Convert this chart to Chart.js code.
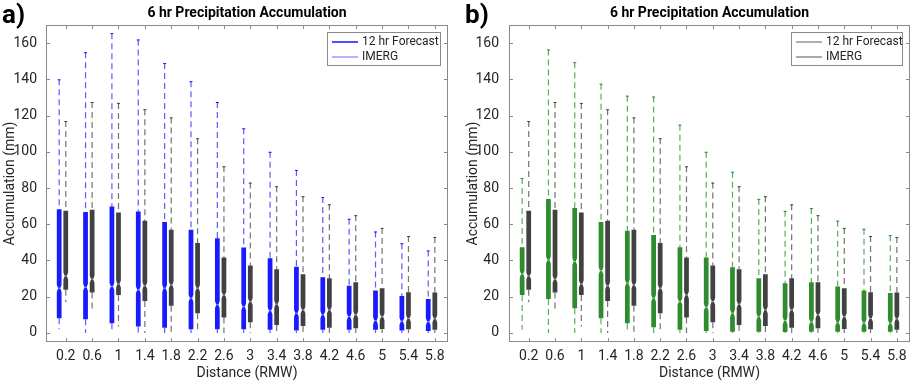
<!DOCTYPE html>
<html>
<head>
<meta charset="utf-8">
<script src="https://cdn.jsdelivr.net/npm/chart.js@4.4.0/dist/chart.umd.min.js"></script>
<style>
  body { margin: 0; background: #fff; }
  #wrap { position: relative; width: 913px; height: 382px; }
  .panel { position: absolute; top: 0; height: 382px; }
</style>
</head>
<body>
<div id="wrap">
  <div class="panel" style="left:0;width:455px"><canvas id="chartA"></canvas></div>
  <div class="panel" style="left:455px;width:458px"><canvas id="chartB"></canvas></div>
</div>
<script>
// distance bins (RMW) and y ticks
const distances = [0.2, 0.6, 1, 1.4, 1.8, 2.2, 2.6, 3, 3.4, 3.8, 4.2, 4.6, 5, 5.4, 5.8];
const yTicks = [0, 20, 40, 60, 80, 100, 120, 140, 160];

// 12 hr forecast, panel a (blue)
const fcaLow  = [2, 0, 0, 0, 0, 0, 0, 0, 0, 0, 0, 0, 0, 0, 0];
const fcaQ1   = [8.1, 7.6, 5.4, 3.5, 2.9, 2, 2, 2, 1.7, 1.3, 1.7, 1.7, 1.7, 1.3, 1.1];
const fcaMed  = [24.7, 25.2, 25.6, 23.8, 24.7, 19.2, 15.5, 14.5, 12.2, 10.9, 10, 9, 6.8, 6.5, 6.2];
const fcaQ3   = [68.3, 66.7, 69.8, 67, 61.3, 57, 52.3, 47.1, 41.3, 36.6, 30.8, 26.1, 23.4, 20.4, 18.8];
const fcaHigh = [140, 155, 165.5, 162, 149, 139, 127.5, 113, 100, 90, 75, 63, 56, 49.5, 45.5];

// 12 hr forecast, panel b (green)
const fcbLow  = [1.7, 0, 0, 0, 0, 0, 0, 0, 0, 0, 0, 0, 0, 0, 0];
const fcbQ1   = [21, 18.8, 13.6, 8.1, 5.4, 3.1, 1.7, 1.1, 0.7, 0.7, 0.5, 0.6, 0.6, 0.6, 0.6];
const fcbMed  = [32.6, 40.3, 39.4, 34.4, 27.5, 19.2, 17.3, 14.2, 10.9, 9, 6.8, 6.1, 5.7, 5.5, 5.4];
const fcbQ3   = [47.3, 74, 69, 61.2, 56.4, 54.1, 47.3, 41.6, 36.3, 30.2, 27.5, 28, 25.6, 23.4, 22];
const fcbHigh = [85.5, 156.5, 149.5, 137.6, 131, 130.5, 115, 100, 89, 74, 67.4, 69, 62, 57.5, 54];

// IMERG (same in both panels)
const imLow  = [17, 11.6, 3.5, 0, 0, 0, 0, 0, 0, 0, 0, 0, 0, 0, 0];
const imQ1   = [23.8, 22.3, 21, 17.7, 15, 10.9, 8.5, 5.9, 4.4, 3.9, 2.9, 2.6, 2.2, 2, 1.7];
const imMed  = [31.5, 29.7, 27, 26, 26.5, 24.7, 21, 17.3, 15.9, 12.7, 12.7, 10, 9, 8, 7.8];
const imQ3   = [67.4, 68, 66.5, 62, 57, 49.6, 41.6, 37.2, 35.2, 32.4, 30.2, 28, 24.7, 22.5, 22.3];
const imHigh = [117, 127.5, 127, 123.5, 119, 107.5, 92, 83, 81, 75.5, 71, 65, 58, 53.5, 53];

const FONT = 'Roboto, "Liberation Sans", Arial, sans-serif';
const TEXT = '#262626';

function makeSet(label, offset, low, q1, med, q3, high, boxColor, whiskerColor) {
    return {
        label: label,
        data: distances.map((d, i) => ({ x: d + offset, y: med[i] })),
        pointRadius: 0,
        showLine: false,
        stats: { low, q1, med, q3, high },
        boxColor: boxColor,
        whiskerColor: whiskerColor
    };
}

// draws notched compact boxes + dashed whiskers from the dataset stats
const boxPlugin = {
    id: 'boxes',
    afterDatasetsDraw(chart) {
        const ctx = chart.ctx;
        const xs = chart.scales.x, ys = chart.scales.y;
        const boxW = xs.getPixelForValue(0.072) - xs.getPixelForValue(0);
        chart.data.datasets.forEach(ds => {
            const s = ds.stats;
            ds.data.forEach((pt, i) => {
                const x = xs.getPixelForValue(pt.x);
                const yLow = ys.getPixelForValue(s.low[i]);
                const yQ1 = ys.getPixelForValue(s.q1[i]);
                const yMed = ys.getPixelForValue(s.med[i]);
                const yQ3 = ys.getPixelForValue(s.q3[i]);
                const yHigh = ys.getPixelForValue(s.high[i]);

                ctx.save();
                // whiskers
                ctx.strokeStyle = ds.whiskerColor;
                ctx.lineWidth = 1.2;
                ctx.setLineDash([6, 4]);
                ctx.beginPath();
                ctx.moveTo(x, yHigh);
                ctx.lineTo(x, yQ3);
                ctx.stroke();
                ctx.beginPath();
                ctx.moveTo(x, yQ1);
                ctx.lineTo(x, yLow);
                ctx.stroke();
                ctx.setLineDash([]);
                // top cap
                ctx.strokeStyle = ds.boxColor;
                ctx.lineWidth = 1;
                ctx.beginPath();
                ctx.moveTo(x - 1.5, yHigh + 0.5);
                ctx.lineTo(x + 1.5, yHigh + 0.5);
                ctx.stroke();

                // notched box
                const L = x - boxW / 2, R = x + boxW / 2;
                const n = boxW * 0.28;
                const h = Math.min(3.5, (yQ1 - yMed) * 0.9, (yMed - yQ3) * 0.9);
                ctx.fillStyle = ds.boxColor;
                ctx.beginPath();
                ctx.moveTo(L, yQ3);
                ctx.lineTo(R, yQ3);
                ctx.lineTo(R, yMed - h);
                ctx.lineTo(R - n, yMed);
                ctx.lineTo(R, yMed + h);
                ctx.lineTo(R, yQ1);
                ctx.lineTo(L, yQ1);
                ctx.lineTo(L, yMed + h);
                ctx.lineTo(L + n, yMed);
                ctx.lineTo(L, yMed - h);
                ctx.closePath();
                ctx.fill();
                // median mark
                ctx.strokeStyle = 'rgba(255,255,255,0.55)';
                ctx.lineWidth = 1;
                ctx.beginPath();
                ctx.moveTo(L + n, yMed);
                ctx.lineTo(R - n, yMed);
                ctx.stroke();
                ctx.restore();
            });
        });
    }
};

// frame, inward ticks, title, panel letter, legend
const decorPlugin = {
    id: 'decor',
    afterDraw(chart) {
        const ctx = chart.ctx;
        const a = chart.chartArea;
        const xs = chart.scales.x, ys = chart.scales.y;
        const o = chart.options.plugins.decor;
        ctx.save();
        ctx.strokeStyle = '#8a8a8a';
        ctx.lineWidth = 1;
        ctx.strokeRect(a.left + 0.5, a.top + 0.5, a.right - a.left - 1, a.bottom - a.top - 1);
        ctx.beginPath();
        yTicks.forEach(v => {
            const y = Math.round(ys.getPixelForValue(v)) + 0.5;
            ctx.moveTo(a.left, y); ctx.lineTo(a.left + 4, y);
            ctx.moveTo(a.right, y); ctx.lineTo(a.right - 4, y);
        });
        distances.forEach(v => {
            const x = Math.round(xs.getPixelForValue(v)) + 0.5;
            ctx.moveTo(x, a.bottom); ctx.lineTo(x, a.bottom - 4);
            ctx.moveTo(x, a.top); ctx.lineTo(x, a.top + 4);
        });
        ctx.stroke();

        // title and letter
        ctx.fillStyle = '#000';
        ctx.textAlign = 'center';
        ctx.textBaseline = 'middle';
        ctx.font = 'bold 14px ' + FONT;
        ctx.fillText('6 hr Precipitation Accumulation', (a.left + a.right) / 2, 13);
        ctx.textAlign = 'left';
        ctx.font = 'bold 26px ' + FONT;
        ctx.fillText(o.letter, o.letterX, 16);

        // legend
        const bw = o.legendW, bh = 34;
        const bx = a.right - 7 - bw, by = a.top + 7;
        ctx.fillStyle = '#fff';
        ctx.fillRect(bx, by, bw, bh);
        ctx.strokeStyle = '#8a8a8a';
        ctx.strokeRect(bx + 0.5, by + 0.5, bw - 1, bh - 1);
        o.legend.forEach((it, k) => {
            const y = by + 10 + k * 15;
            ctx.strokeStyle = it.color;
            ctx.lineWidth = it.width;
            ctx.beginPath();
            ctx.moveTo(bx + 5, y);
            ctx.lineTo(bx + 31, y);
            ctx.stroke();
            ctx.fillStyle = TEXT;
            ctx.font = '12px ' + FONT;
            ctx.textBaseline = 'middle';
            ctx.fillText(it.text, bx + 35, y);
        });
        ctx.restore();
    }
};

function makeChart(id, sets, cfg) {
    return new Chart(document.getElementById(id).getContext('2d'), {
        type: 'scatter',
        data: { datasets: sets },
        options: {
            responsive: true,
            maintainAspectRatio: false,
            animation: false,
            events: [],
            layout: { padding: { top: 25, right: cfg.padRight, left: 0, bottom: 0 } },
            plugins: {
                legend: { display: false },
                tooltip: { enabled: false },
                decor: cfg
            },
            scales: {
                x: {
                    type: 'linear',
                    min: -0.1,
                    max: 6.0,
                    afterBuildTicks: s => { s.ticks = distances.map(v => ({ value: v })); },
                    afterFit: s => { s.height = 40; },
                    grid: { display: false, drawTicks: false },
                    border: { display: false },
                    ticks: {
                        autoSkip: false, maxRotation: 0, padding: 6,
                        color: TEXT, font: { family: FONT, size: 14 },
                        callback: v => String(v)
                    },
                    title: {
                        display: true, text: 'Distance (RMW)', color: TEXT,
                        font: { family: FONT, size: 14 }, padding: { top: 0, bottom: 0 }
                    }
                },
                y: {
                    min: -5,
                    max: 170,
                    afterBuildTicks: s => { s.ticks = yTicks.map(v => ({ value: v })); },
                    afterFit: s => { s.width = cfg.yWidth; },
                    grid: { display: false, drawTicks: false },
                    border: { display: false },
                    ticks: { padding: cfg.yPad, color: TEXT, font: { family: FONT, size: 14 } },
                    title: {
                        display: true, text: 'Accumulation (mm)', color: TEXT,
                        font: { family: FONT, size: 14 }, padding: { top: cfg.yTitlePad, bottom: 0 }
                    }
                }
            }
        },
        plugins: [boxPlugin, decorPlugin]
    });
}

makeChart('chartA', [
    makeSet('12 hr Forecast', -0.1, fcaLow, fcaQ1, fcaMed, fcaQ3, fcaHigh, '#1a1aff', 'rgba(50,50,255,0.8)'),
    makeSet('IMERG', 0, imLow, imQ1, imMed, imQ3, imHigh, '#414141', 'rgba(80,80,80,0.8)')
], {
    letter: 'a)', letterX: 2, padRight: 7, yWidth: 46, yPad: 9, yTitlePad: 2, legendW: 114,
    legend: [
        { text: '12 hr Forecast', color: '#2222ff', width: 1.6 },
        { text: 'IMERG', color: '#6a6aff', width: 1 }
    ]
});

makeChart('chartB', [
    makeSet('12 hr Forecast', -0.1, fcbLow, fcbQ1, fcbMed, fcbQ3, fcbHigh, '#2e8b2e', 'rgba(60,160,60,0.85)'),
    makeSet('IMERG', 0, imLow, imQ1, imMed, imQ3, imHigh, '#414141', 'rgba(80,80,80,0.8)')
], {
    letter: 'b)', letterX: 10, padRight: 3, yWidth: 54, yPad: 10, yTitlePad: 10, legendW: 112,
    legend: [
        { text: '12 hr Forecast', color: '#7a7a7a', width: 1.2 },
        { text: 'IMERG', color: '#6c7560', width: 1.2 }
    ]
});
</script>
</body>
</html>
